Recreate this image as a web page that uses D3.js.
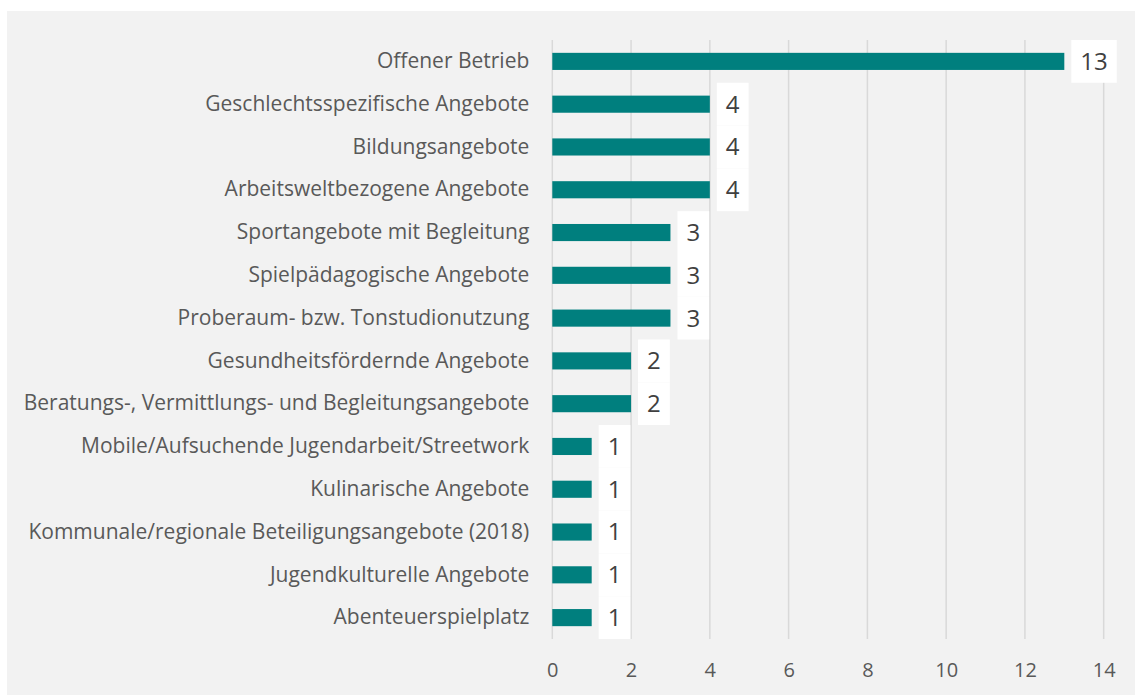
<!DOCTYPE html>
<html>
<head>
<meta charset="utf-8">
<script src="https://cdn.jsdelivr.net/npm/d3@7"></script>
<style>
  html, body { margin: 0; padding: 0; background: #ffffff; }
  svg { display: block; }
</style>
</head>
<body>
<svg id="chart" width="1135" height="695"></svg>
<script>
const categories = [
  "Offener Betrieb",
  "Geschlechtsspezifische Angebote",
  "Bildungsangebote",
  "Arbeitsweltbezogene Angebote",
  "Sportangebote mit Begleitung",
  "Spielpädagogische Angebote",
  "Proberaum- bzw. Tonstudionutzung",
  "Gesundheitsfördernde Angebote",
  "Beratungs-, Vermittlungs- und Begleitungsangebote",
  "Mobile/Aufsuchende Jugendarbeit/Streetwork",
  "Kulinarische Angebote",
  "Kommunale/regionale Beteiligungsangebote (2018)",
  "Jugendkulturelle Angebote",
  "Abenteuerspielplatz"
];
const values = [13, 4, 4, 4, 3, 3, 3, 2, 2, 1, 1, 1, 1, 1];
const tickValues = [0, 2, 4, 6, 8, 10, 12, 14];

const FONT = "'Open Sans', sans-serif";
const svg = d3.select("#chart");

svg.append("rect").attr("x", 7).attr("y", 11).attr("width", 1128).attr("height", 684).attr("fill", "#f2f2f2");

const x = d3.scaleLinear().domain([0, 14]).range([552.3, 1103.7]);
const y = d3.scaleBand().domain(categories).range([40, 639]).paddingInner(0.6).paddingOuter(0.3);

// gridlines
svg.append("g").selectAll("line").data(tickValues).join("line")
  .attr("x1", d => x(d)).attr("x2", d => x(d))
  .attr("y1", 40).attr("y2", 639)
  .attr("stroke", "#d9d9d9").attr("stroke-width", 1.5);

// x axis labels
const xAxis = svg.append("g").attr("transform", "translate(0,639)")
  .call(d3.axisBottom(x).tickValues(tickValues).tickSize(0).tickPadding(0).tickFormat(d3.format("d")));
xAxis.select(".domain").remove();
xAxis.selectAll("text")
  .attr("y", 31).attr("dy", "0.35em")
  .attr("fill", "#595959").style("font-family", FONT).style("font-size", "20px");

// bars
svg.append("g").selectAll("rect").data(values).join("rect")
  .attr("x", x(0))
  .attr("y", (d, i) => y(categories[i]))
  .attr("width", d => x(d) - x(0))
  .attr("height", y.bandwidth())
  .attr("fill", "#007f7e");

// category labels
const yAxis = svg.append("g").attr("transform", `translate(${x(0)},0)`)
  .call(d3.axisLeft(y).tickSize(0).tickPadding(23));
yAxis.select(".domain").remove();
yAxis.selectAll("text")
  .attr("fill", "#595959").style("font-family", FONT).style("font-size", "21px");

// value labels with white boxes
const step = y.step();
const lbl = svg.append("g").selectAll("g").data(values).join("g")
  .attr("transform", (d, i) => `translate(${x(d) + 7},${y(categories[i]) + y.bandwidth() / 2})`);
lbl.append("text")
  .text(d => d)
  .attr("dy", "0.35em")
  .attr("fill", "#404040")
  .style("font-family", FONT).style("font-size", "24px");
lbl.each(function () {
  const g = d3.select(this);
  const t = g.select("text");
  const w = t.node().getComputedTextLength();
  g.insert("rect", "text")
    .attr("x", 0).attr("y", -step / 2)
    .attr("width", w + 18).attr("height", step)
    .attr("fill", "#ffffff");
  t.attr("x", 9);
});
</script>
</body>
</html>
